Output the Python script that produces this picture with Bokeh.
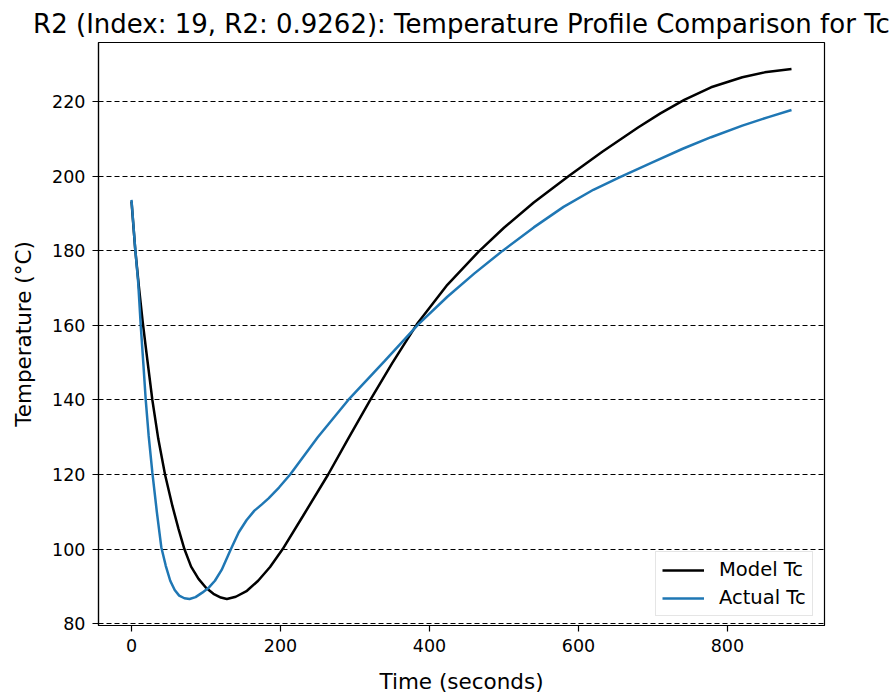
from bokeh.plotting import figure
from bokeh.models import Range1d, FixedTicker, Legend, LegendItem
from bokeh.embed import file_html
from bokeh.resources import INLINE

# ---- data ----
time_model = [0, 5, 10, 15, 20, 28, 36, 45, 55, 63, 71, 80, 90, 100, 110, 120, 128,
              140, 155, 170, 186, 203, 230, 264, 290, 320, 350, 383, 424, 466,
              500, 540, 587, 632, 680, 710, 742, 778, 820, 850, 886]
model_tc = [193.3, 180.4, 170.3, 161.0, 152.8, 140.0, 129.5, 120.0, 111.5, 105.5, 100.0,
            95.3, 92.0, 89.6, 88.0, 87.0, 86.6, 87.2, 88.8, 91.5, 95.2, 100.0, 108.8,
            120.0, 129.3, 139.8, 149.9, 160.3, 170.9, 179.8, 186.2, 193.0,
            200.1, 206.6, 213.1, 216.9, 220.5, 223.9, 226.6, 227.9, 228.8]

time_actual = [0, 5, 9, 12.4, 16, 19.1, 23, 28, 34, 40, 46, 52, 58, 64, 71, 78, 86, 95,
               104, 112, 121, 133.5, 144, 154.6, 165, 175, 184, 198, 213, 250, 291, 340,
               385, 424, 460, 498, 540, 580, 620, 655, 700, 740, 778, 820, 855, 886]
actual_tc = [193.7, 180.5, 171.5, 160.0, 149.5, 140.0, 130.5, 120.5, 110.0, 100.5, 95.5,
             91.5, 89.0, 87.5, 86.8, 86.6, 87.1, 88.3, 89.7, 91.5, 94.4, 100.0, 104.5,
             107.8, 110.3, 112.0, 113.6, 116.5, 120.0, 130.0, 140.0, 150.5, 160.3, 167.7,
             173.9, 180.0, 186.3, 191.8, 196.4, 199.7, 203.8, 207.4, 210.5, 213.6, 215.9,
             217.8]

x_ticks = [0, 200, 400, 600, 800]
y_ticks = [80, 100, 120, 140, 160, 180, 200, 220]

title_text = "R2 (Index: 19, R2: 0.9262): Temperature Profile Comparison for Tc"

# ---- ranges with 5% margins like matplotlib ----
xmin, xmax = min(time_model + time_actual), max(time_model + time_actual)
ymin, ymax = min(model_tc + actual_tc), max(model_tc + actual_tc)
xm = 0.05 * (xmax - xmin)
ym = 0.05 * (ymax - ymin)

FONT = "DejaVu Sans"

p = figure(width=891, height=696, output_backend="svg", toolbar_location=None,
           x_range=Range1d(xmin - xm, xmax + xm), y_range=Range1d(ymin - ym, ymax + ym),
           title=title_text,
           min_border_left=98, min_border_right=67, min_border_top=42, min_border_bottom=70)

p.background_fill_color = "white"
p.border_fill_color = "white"
p.outline_line_color = "black"
p.outline_line_width = 1.2

p.title.text_font = FONT
p.title.text_font_size = "26px"
p.title.text_font_style = "normal"
p.title.text_color = "black"
p.title.align = "center"
p.title.standoff = 8

# grid
p.xgrid.grid_line_color = None
p.ygrid.ticker = FixedTicker(ticks=y_ticks)
p.ygrid.grid_line_color = "black"
p.ygrid.grid_line_dash = "5 3"
p.ygrid.grid_line_width = 1.2

# axes
p.xaxis.ticker = FixedTicker(ticks=x_ticks)
p.yaxis.ticker = FixedTicker(ticks=y_ticks)
for ax in (p.xaxis[0], p.yaxis[0]):
    ax.axis_line_color = "black"
    ax.axis_line_width = 1.2
    ax.major_tick_line_color = "black"
    ax.major_tick_line_width = 1.2
    ax.major_tick_out = 6
    ax.major_tick_in = 0
    ax.minor_tick_line_color = None
    ax.major_label_text_font = FONT
    ax.major_label_text_font_size = "17.5px"
    ax.major_label_text_color = "black"
    ax.axis_label_text_font = FONT
    ax.axis_label_text_font_size = "21.5px"
    ax.axis_label_text_font_style = "normal"
    ax.axis_label_text_color = "black"
    ax.major_label_standoff = 7

p.xaxis.axis_label = "Time (seconds)"
p.yaxis.axis_label = "Temperature (°C)"
p.xaxis.axis_label_standoff = 14
p.yaxis.axis_label_standoff = 13

r_model = p.line(time_model, model_tc, line_color="black", line_width=2.5)
r_actual = p.line(time_actual, actual_tc, line_color="#1f77b4", line_width=2.5)

legend = Legend(items=[LegendItem(label="Model Tc", renderers=[r_model]),
                       LegendItem(label="Actual Tc", renderers=[r_actual])],
                location=(557, 9))
legend.label_text_font = FONT
legend.label_text_font_size = "19.5px"
legend.label_text_color = "black"
legend.border_line_color = "#cccccc"
legend.border_line_width = 1
legend.background_fill_color = "white"
legend.background_fill_alpha = 0.8
legend.glyph_width = 42
legend.glyph_height = 22
legend.label_height = 22
legend.label_standoff = 15
legend.spacing = 5
legend.padding = 6
legend.margin = 0
p.add_layout(legend)

open("out.html", "w").write(file_html(p, INLINE))
